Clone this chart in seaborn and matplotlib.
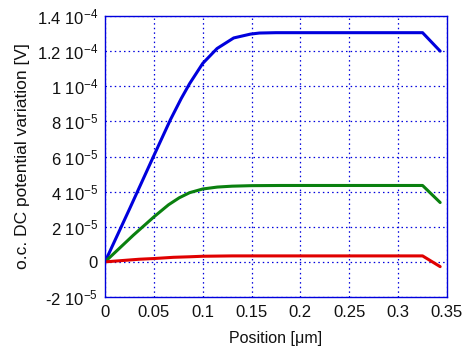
import matplotlib
matplotlib.use("Agg")
import matplotlib.pyplot as plt
import seaborn as sns
import pandas as pd
import numpy as np

# Data (y in units of 1e-5 V)
blue_x = [0, 0.025, 0.05, 0.067, 0.078, 0.0866, 0.1, 0.1147, 0.1317, 0.1489, 0.158, 0.175, 0.325, 0.343]
blue_y = [0, 3.0, 6.05, 8.1, 9.3, 10.15, 11.3, 12.15, 12.75, 12.97, 13.03, 13.05, 13.05, 12.0]
green_x = [0, 0.029, 0.05, 0.065, 0.076, 0.0866, 0.1, 0.115, 0.13, 0.15, 0.18, 0.325, 0.343]
green_y = [0, 1.52, 2.56, 3.25, 3.65, 3.94, 4.15, 4.26, 4.31, 4.34, 4.35, 4.35, 3.38]
red_x = [0, 0.035, 0.05, 0.07, 0.0866, 0.1, 0.13, 0.325, 0.343]
red_y = [0, 0.15, 0.19, 0.26, 0.29, 0.32, 0.34, 0.34, -0.27]

yticks = [-2e-5, 0, 2e-5, 4e-5, 6e-5, 8e-5, 1e-4, 1.2e-4, 1.4e-4]
ytick_labels = ["-2 10$^{-5}$", "0", "2 10$^{-5}$", "4 10$^{-5}$", "6 10$^{-5}$",
                "8 10$^{-5}$", "1 10$^{-4}$", "1.2 10$^{-4}$", "1.4 10$^{-4}$"]
xticks = [0, 0.05, 0.1, 0.15, 0.2, 0.25, 0.3, 0.35]
xtick_labels = ["0", "0.05", "0.1", "0.15", "0.2", "0.25", "0.3", "0.35"]

frames = []
for name, xs, ys in [("blue", blue_x, blue_y), ("green", green_x, green_y), ("red", red_x, red_y)]:
    frames.append(pd.DataFrame({"x": xs, "y": np.array(ys) * 1e-5, "s": name}))
df = pd.concat(frames, ignore_index=True)

sns.set_style("white")
plt.rcParams['font.family'] = ['Liberation Sans', 'DejaVu Sans']
plt.rcParams['mathtext.fontset'] = 'custom'
plt.rcParams['mathtext.rm'] = 'Liberation Sans'
plt.rcParams['mathtext.it'] = 'Liberation Sans'
plt.rcParams['mathtext.default'] = 'rm'

fig = plt.figure(figsize=(4.7, 3.5), dpi=100)
ax = fig.add_axes([105/470, 53/350, 342/470, 281/350])

palette = {"blue": "#0000dd", "green": "#0a800f", "red": "#e00000"}
sns.lineplot(data=df, x="x", y="y", hue="s", palette=palette, ax=ax,
             linewidth=2.2, legend=False, estimator=None, sort=False)

ax.set_xlim(0, 0.35)
ax.set_ylim(-2e-5, 1.4e-4)
ax.set_xticks(xticks)
ax.set_xticklabels(xtick_labels)
ax.set_yticks(yticks)
ax.set_yticklabels(ytick_labels)
ax.tick_params(direction="in", colors="#0000dd", labelcolor="#111111", labelsize=12, length=4)
ax.tick_params(axis="x", pad=6)
ax.tick_params(axis="y", pad=5)
for sp in ax.spines.values():
    sp.set_color("#0000dd")
    sp.set_linewidth(1.0)
ax.grid(True, color="#0000dd", linestyle=(0, (1.2, 2.5)), linewidth=0.9)
ax.set_xlabel("Position [μm]", fontsize=11.5, color="#111111", labelpad=8)
ax.set_ylabel("o.c. DC potential variation [V]", fontsize=12.5, color="#111111", labelpad=5)

fig.savefig("out.png", dpi=100)
